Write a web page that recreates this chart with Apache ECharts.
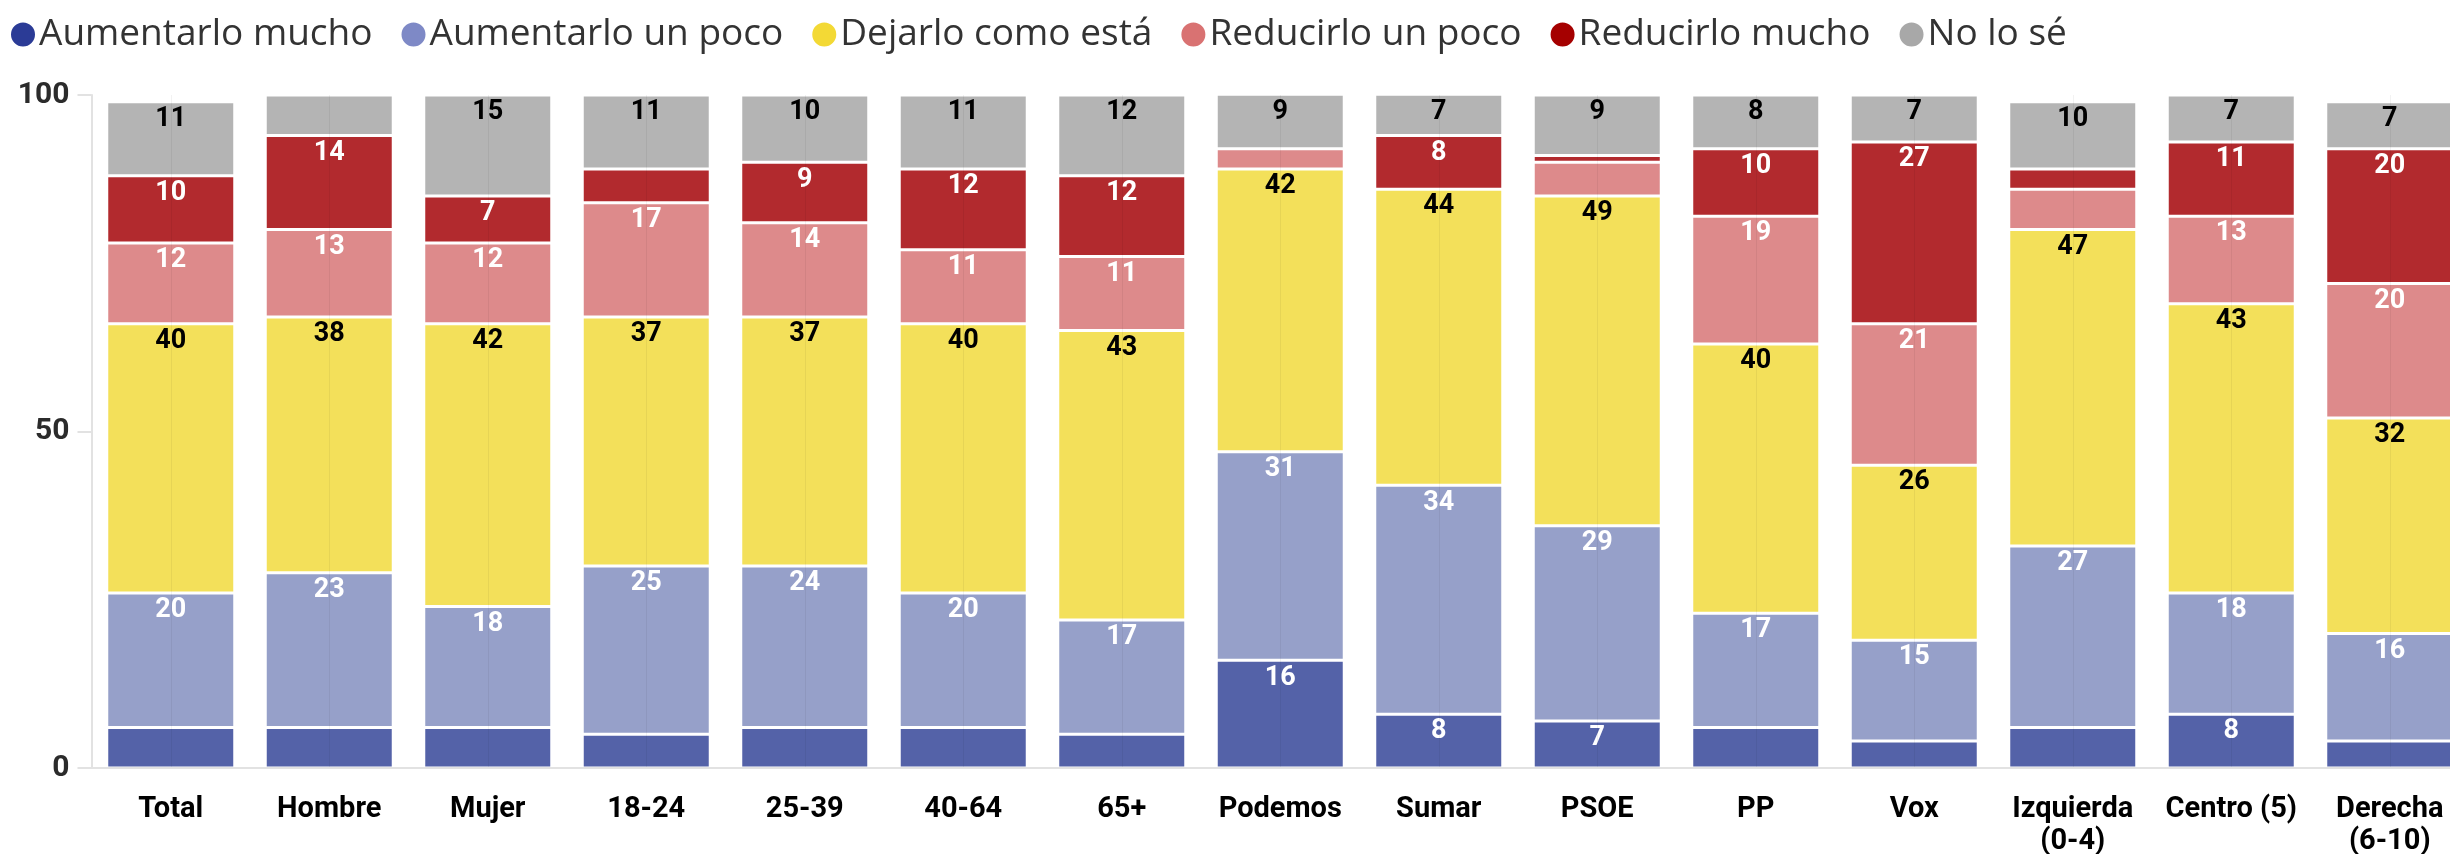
<!DOCTYPE html>
<html>
<head>
<meta charset="utf-8">
<script src="https://cdn.jsdelivr.net/npm/echarts@6/dist/echarts.min.js"></script>
<style>
  html, body { margin: 0; padding: 0; background: #fff; overflow: hidden; }
  #chart { width: 2450px; height: 854px; }
</style>
</head>
<body>
<div id="chart"></div>
<script>
const categories = ['Total', 'Hombre', 'Mujer', '18-24', '25-39', '40-64', '65+', 'Podemos', 'Sumar', 'PSOE', 'PP', 'Vox', 'Izquierda\n(0-4)', 'Centro (5)', 'Derecha\n(6-10)'];

const aumentarloMucho  = [6, 6, 6, 5, 6, 6, 5, 16, 8, 7, 6, 4, 6, 8, 4];
const aumentarloUnPoco = [20, 23, 18, 25, 24, 20, 17, 31, 34, 29, 17, 15, 27, 18, 16];
const dejarloComoEsta  = [40, 38, 42, 37, 37, 40, 43, 42, 44, 49, 40, 26, 47, 43, 32];
const reducirloUnPoco  = [12, 13, 12, 17, 14, 11, 11, 3, 0, 5, 19, 21, 6, 13, 20];
const reducirloMucho   = [10, 14, 7, 5, 9, 12, 12, 0, 8, 1, 10, 27, 3, 11, 20];
const noLoSe           = [11, 6, 15, 11, 10, 11, 12, 9, 7, 9, 8, 7, 10, 7, 7];

const yTicks = [0, 50, 100];

// name, data, bar colour, legend colour, label colour
const seriesDefs = [
    ['Aumentarlo mucho', aumentarloMucho, '#5462a8', '#2b3b96', '#ffffff'],
    ['Aumentarlo un poco', aumentarloUnPoco, '#96a0c9', '#7e89c6', '#ffffff'],
    ['Dejarlo como está', dejarloComoEsta, '#f3e05a', '#f3d935', '#000000'],
    ['Reducirlo un poco', reducirloUnPoco, '#dd8a8b', '#d97272', '#ffffff'],
    ['Reducirlo mucho', reducirloMucho, '#b22a2e', '#a50000', '#ffffff'],
    ['No lo sé', noLoSe, '#b4b4b4', '#a8a8a8', '#000000']
];

let chart = echarts.init(document.getElementById('chart'), null, { renderer: 'canvas' });

let option = {
    animation: false,
    textStyle: { fontFamily: 'Roboto' },
    legend: {
        left: 4,
        top: 11,
        icon: 'circle',
        itemWidth: 26,
        itemHeight: 26,
        itemGap: 27,
        textStyle: {
            fontFamily: 'Open Sans',
            fontSize: 37,
            color: '#333333',
            padding: [0, 0, 0, -2]
        },
        data: seriesDefs.map(d => ({ name: d[0], itemStyle: { color: d[3] } }))
    },
    grid: {
        left: 91.5,
        right: -19, // last bar runs off the picture
        top: 95,
        bottom: 86,
        containLabel: false,
        outerBoundsMode: 'none'
    },
    xAxis: {
        type: 'category',
        data: categories,
        z: 3,
        axisLine: { lineStyle: { color: '#e2e2e2', width: 2 } },
        axisTick: { alignWithLabel: true, length: 12, lineStyle: { color: '#e2e2e2', width: 2 } },
        splitLine: { show: true, alignWithLabel: true, lineStyle: { color: 'rgba(0,0,0,0.05)', width: 1 } },
        axisLabel: {
            margin: 26,
            fontSize: 29,
            fontWeight: 'bold',
            color: '#000000',
            lineHeight: 32,
            interval: 0
        }
    },
    yAxis: {
        type: 'value',
        min: 0,
        max: 100,
        interval: 50,
        axisLine: { show: true, lineStyle: { color: '#e2e2e2', width: 2 } },
        axisTick: { show: true, length: 14, lineStyle: { color: '#e2e2e2', width: 2 } },
        splitLine: { show: false },
        axisLabel: {
            margin: 22,
            fontSize: 30,
            fontWeight: 'bold',
            color: '#2b2b2b',
            formatter: v => (yTicks.indexOf(v) >= 0 ? String(v) : '')
        }
    },
    series: seriesDefs.map(d => ({
        name: d[0],
        type: 'bar',
        stack: 'total',
        data: d[1],
        barWidth: 128,
        itemStyle: { color: d[2], borderColor: '#ffffff', borderWidth: 1.5 },
        label: {
            show: true,
            position: 'insideTop',
            distance: 4,
            fontSize: 27,
            fontWeight: 'bold',
            color: d[4],
            formatter: p => (p.value >= 7 ? String(p.value) : '')
        }
    }))
};

chart.setOption(option);
</script>
</body>
</html>
